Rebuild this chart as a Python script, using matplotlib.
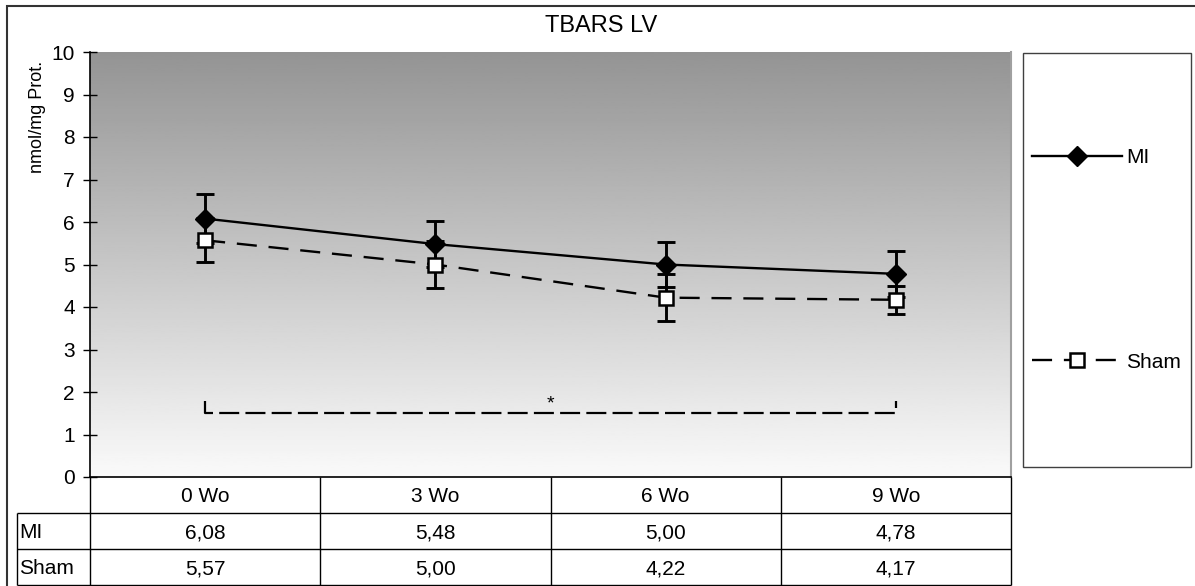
import numpy as np
import matplotlib.pyplot as plt
from matplotlib.patches import Rectangle

plt.rcParams['font.family'] = ['Liberation Sans', 'DejaVu Sans']

# data
weeks = ["0 Wo", "3 Wo", "6 Wo", "9 Wo"]
mi = [6.08, 5.48, 5.00, 4.78]
sham = [5.57, 5.00, 4.22, 4.17]
mi_err = [0.58, 0.54, 0.53, 0.54]
sham_err = [0.52, 0.55, 0.56, 0.33]
yticks = [0, 1, 2, 3, 4, 5, 6, 7, 8, 9, 10]
sig_level = 1.5
sig_tick = 1.8

W, H = 1195, 586
fig = plt.figure(figsize=(W / 100, H / 100), dpi=100)

# outer frame
fig.patches.append(Rectangle((7 / W, -0.02), 1.1, 1 - 6 / H + 0.02, transform=fig.transFigure,
                             facecolor='none', edgecolor='#333333', linewidth=1.5))

# plot area (pixel box: 90..1011 x 52..477)
ax = fig.add_axes([90 / W, (H - 477) / H, (1011 - 90) / W, (477 - 52) / H])
x = np.arange(len(weeks))
ax.set_xlim(-0.5, len(weeks) - 0.5)
ax.set_ylim(0, 10)

# grey gradient background
grad = np.linspace(0, 1, 256).reshape(-1, 1)
ax.imshow(grad, extent=(-0.5, len(weeks) - 0.5, 0, 10), aspect='auto', origin='upper',
          cmap='gray', vmin=-1.45, vmax=1.05, zorder=0)

# error bars
ax.errorbar(x, mi, yerr=mi_err, fmt='none', ecolor='black', elinewidth=2.1,
            capsize=6.5, capthick=2.1, zorder=2)
ax.errorbar(x, sham, yerr=sham_err, fmt='none', ecolor='black', elinewidth=2.1,
            capsize=6.5, capthick=2.1, zorder=2)

# lines
l_mi, = ax.plot(x, mi, color='black', lw=1.7, marker='D', ms=10, mfc='black', mec='black',
                label='MI', zorder=4)
l_sham, = ax.plot(x, sham, color='black', lw=1.7, ls=(0, (8.5, 5)), marker='s', ms=10.5,
                  mfc='white', mec='black', mew=1.8, label='Sham', zorder=5)

# significance bracket
ax.plot([x[0], x[0], x[-1], x[-1]], [sig_tick, sig_level, sig_level, sig_tick],
        color='black', lw=1.6, ls=(0, (9, 2.8)), zorder=3)
ax.text((x[0] + x[-1]) / 2, 1.72, '*', ha='center', va='center', fontsize=14)

# axes styling
ax.set_xticks([])
ax.set_yticks(yticks)
ax.tick_params(axis='y', direction='inout', length=10, width=1, labelsize=15, pad=6)
ax.spines['top'].set_visible(False)
ax.spines['right'].set_color('#a0a0a0')
ax.spines['right'].set_linewidth(1.5)
ax.spines['left'].set_linewidth(1.2)
ax.spines['bottom'].set_linewidth(1.2)

fig.text(601 / W, 1 - 25.5 / H, 'TBARS LV', ha='center', va='center', fontsize=17)
fig.text(37 / W, 1 - 117 / H, 'nmol/mg Prot.', ha='center', va='center', rotation=90, fontsize=13)

# data table below the plot
col_w = (1011 - 90) / len(weeks)
left_pad = (90 - 17) / col_w
tax = fig.add_axes([17 / W, (H - 585) / H, (1011 - 17) / W, (585 - 477) / H])
tax.set_xlim(-0.5 - left_pad, len(weeks) - 0.5)
tax.set_ylim(3, 0)
tax.axis('off')
edges = np.arange(len(weeks) + 1) - 0.5
tax.hlines([1, 2, 3], -0.5 - left_pad, len(weeks) - 0.5, color='black', lw=1, clip_on=False)
tax.vlines(edges, 0, 3, color='black', lw=1, clip_on=False)
tax.vlines(-0.5 - left_pad, 1, 3, color='black', lw=1, clip_on=False)
for i, w in enumerate(weeks):
    tax.text(i, 0.5, w, ha='center', va='center_baseline', fontsize=15)
    tax.text(i, 1.5, f"{mi[i]:.2f}".replace('.', ','), ha='center', va='center_baseline', fontsize=15)
    tax.text(i, 2.5, f"{sham[i]:.2f}".replace('.', ','), ha='center', va='center_baseline', fontsize=15)
tax.text(-0.5 - left_pad + 0.01, 1.5, 'MI', ha='left', va='center_baseline', fontsize=15)
tax.text(-0.5 - left_pad + 0.01, 2.5, 'Sham', ha='left', va='center_baseline', fontsize=15)

# legend box
fig.patches.append(Rectangle((1023 / W, (H - 467) / H), (1191 - 1023) / W, (467 - 53) / H,
                             transform=fig.transFigure, facecolor='white', edgecolor='#404040', lw=1))
fig.legend([l_mi, l_sham], ['MI', 'Sham'], loc='center left', bbox_to_anchor=(1032 / W, 1 - 260 / H),
           frameon=False, fontsize=15, borderpad=0, borderaxespad=0, handlelength=4.3,
           handletextpad=0.2, labelspacing=8.9, numpoints=1)

fig.savefig('out.png', dpi=100)
